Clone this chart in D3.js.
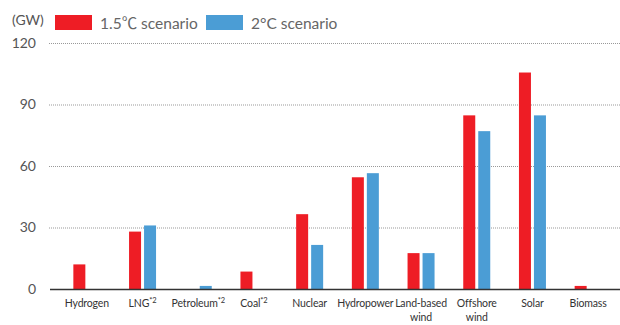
<!DOCTYPE html>
<html>
<head>
<meta charset="utf-8">
<script src="https://cdn.jsdelivr.net/npm/d3@7"></script>
<style>
  body { margin: 0; background: #fff; }
  text { font-family: Lato, "Noto Sans CJK JP", sans-serif; fill: #555; }
</style>
</head>
<body>
<div id="chart"></div>
<script>
var categories = ["Hydrogen", "LNG", "Petroleum", "Coal", "Nuclear", "Hydropower",
                  "Land-based wind", "Offshore wind", "Solar", "Biomass"];
var labelLines = [["Hydrogen"], ["LNG*2"], ["Petroleum*2"], ["Coal*2"], ["Nuclear"],
                  ["Hydropower"], ["Land-based", "wind"], ["Offshore", "wind"], ["Solar"], ["Biomass"]];
var seriesNames = ["1.5℃ scenario", "2°C scenario"];
var values15 = [12, 28, 0, 8.5, 36.5, 54.5, 17.5, 84.7, 105.6, 1.5];
var values2 = [0, 31, 1.5, 0, 21.5, 56.5, 17.5, 77, 84.7, 0];
var yTicks = [0, 30, 60, 90, 120];
var colors = ["#ee1d25", "#4b9dd5"];

var width = 620, height = 325;
var svg = d3.select("#chart").append("svg")
    .attr("width", width)
    .attr("height", height);

var y = d3.scaleLinear()
    .domain([0, 120])
    .range([289, 43]);

var x0 = d3.scaleBand()
    .domain(categories)
    .range([59, 616]);

var x1 = d3.scaleBand()
    .domain(seriesNames)
    .range([0, 27])
    .paddingInner(0.2);

// gridlines
svg.append("g")
  .selectAll("line")
  .data(yTicks.filter(function(d) { return d > 0; }))
  .enter().append("line")
    .attr("x1", 49)
    .attr("x2", 620)
    .attr("y1", function(d) { return y(d) + 0.5; })
    .attr("y2", function(d) { return y(d) + 0.5; })
    .attr("stroke", "#999")
    .attr("stroke-width", 1)
    .attr("stroke-dasharray", "1,1");

// y tick labels
svg.append("g")
  .selectAll("text")
  .data(yTicks)
  .enter().append("text")
    .attr("x", 36)
    .attr("y", function(d) { return y(d); })
    .attr("dy", "0.35em")
    .attr("text-anchor", "end")
    .style("font-size", "14px")
    .text(function(d) { return d; });

// bars
var data = categories.map(function(c, i) {
  return {cat: c, vals: [values15[i], values2[i]]};
});

svg.append("g")
  .selectAll("g")
  .data(data)
  .enter().append("g")
    .attr("transform", function(d) {
      return "translate(" + (x0(d.cat) + (x0.bandwidth() - 27) / 2) + ",0)";
    })
  .selectAll("rect")
  .data(function(d) {
    return d.vals.map(function(v, j) { return {key: seriesNames[j], value: v, j: j}; });
  })
  .enter().append("rect")
    .attr("x", function(d) { return x1(d.key); })
    .attr("y", function(d) { return y(d.value); })
    .attr("width", x1.bandwidth())
    .attr("height", function(d) { return y(0) - y(d.value); })
    .attr("fill", function(d) { return colors[d.j]; });

// baseline
svg.append("line")
    .attr("x1", 50)
    .attr("x2", 620)
    .attr("y1", y(0) + 0.5)
    .attr("y2", y(0) + 0.5)
    .attr("stroke", "#333")
    .attr("stroke-width", 1.5);

// x labels
var xl = svg.append("g")
  .selectAll("text")
  .data(categories)
  .enter().append("text")
    .attr("text-anchor", "middle")
    .style("font-size", "10.5px")
    .style("letter-spacing", "-0.15px")
    .style("fill", "#333");

xl.each(function(c, i) {
  var t = d3.select(this);
  var cx = x0(c) + x0.bandwidth() / 2;
  labelLines[i].forEach(function(line, k) {
    var parts = line.split("*");
    t.append("tspan")
        .attr("x", cx)
        .attr("y", 307 + k * 14)
        .text(parts[0]);
    if (parts.length > 1) {
      t.append("tspan")
          .style("font-size", "7.5px")
          .attr("dy", "-4")
          .text("*" + parts[1]);
    }
  });
});

// unit + legend
svg.append("text")
    .attr("x", 12)
    .attr("y", 25)
    .style("font-size", "14px")
    .text("(GW)");

var legend = svg.append("g")
  .selectAll("g")
  .data(seriesNames)
  .enter().append("g")
    .attr("transform", function(d, i) { return "translate(" + (55 + i * 151) + ",15)"; });

legend.append("rect")
    .attr("width", 37)
    .attr("height", 15)
    .attr("fill", function(d, i) { return colors[i]; });

legend.append("text")
    .attr("x", 45)
    .attr("y", 14)
    .style("font-size", "15.5px")
    .style("fill", "#666")
    .text(function(d) { return d; });
</script>
</body>
</html>
